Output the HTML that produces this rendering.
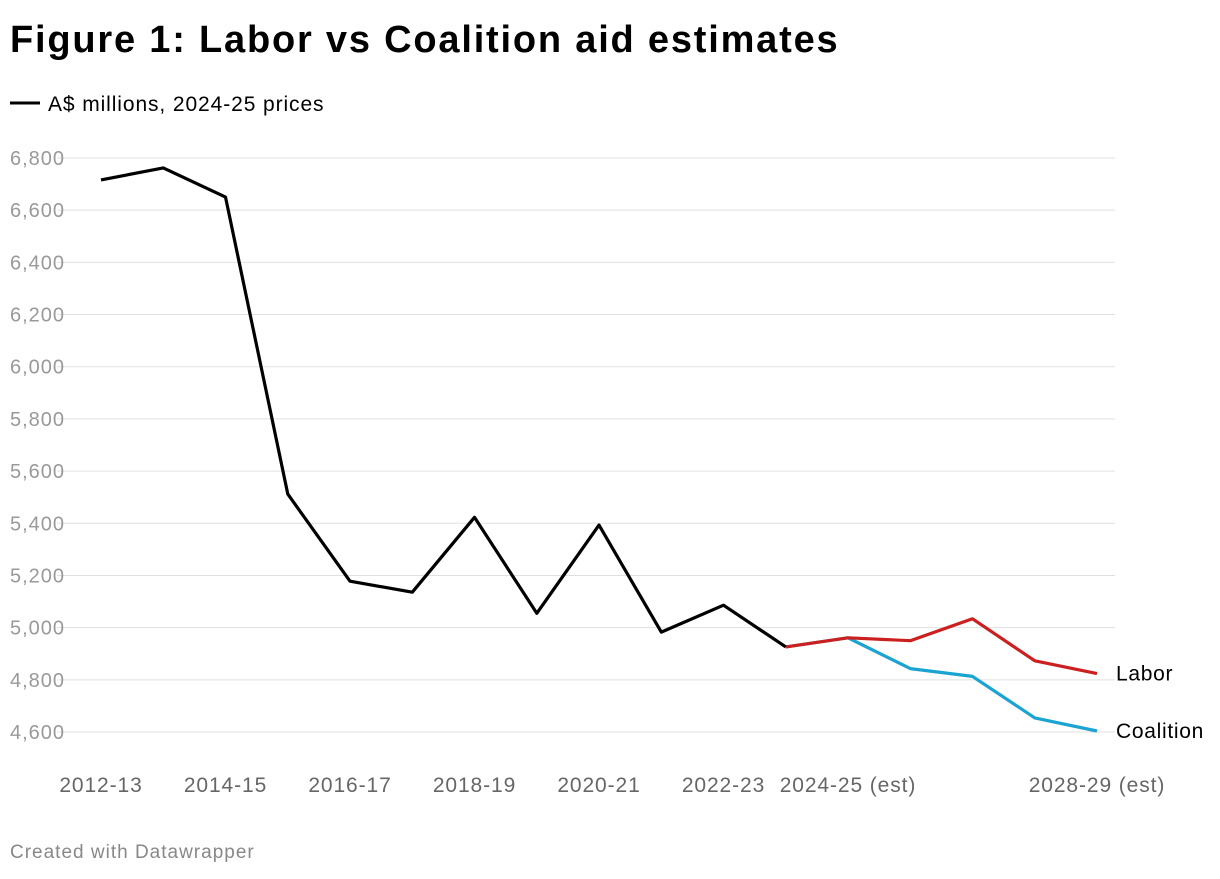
<!DOCTYPE html>
<html><head><meta charset="utf-8">
<style>
body{margin:0;background:#fff;width:1220px;height:874px;overflow:hidden;font-family:"Liberation Sans",Arial,sans-serif;}
svg text{font-family:"Liberation Sans",Arial,sans-serif;}
</style></head>
<body>
<svg id="chart" width="1220" height="874" xmlns="http://www.w3.org/2000/svg">
<text x="10" y="52" font-size="38" font-weight="bold" letter-spacing="1.8" fill="#000">Figure 1: Labor vs Coalition aid estimates</text>
<line x1="10" y1="103" x2="40" y2="103" stroke="#000" stroke-width="3"/>
<text x="48" y="111" font-size="21" letter-spacing="0.9" fill="#000">A$ millions, 2024-25 prices</text>
<g id="grid"></g><g id="series"></g><g id="xlabels"></g>
<text x="10" y="858" font-size="19" letter-spacing="1" fill="#888">Created with Datawrapper</text>
</svg>
<script>
const categories=["2012-13","2013-14","2014-15","2015-16","2016-17","2017-18","2018-19","2019-20","2020-21","2021-22","2022-23","2023-24","2024-25 (est)","2025-26","2026-27","2027-28","2028-29 (est)"];
const historical=[6716,6762,6650,5512,5178,5136,5423,5055,5393,4983,5086,4926,null,null,null,null,null];
const labor=[null,null,null,null,null,null,null,null,null,null,null,4926,4961,4950,5034,4873,4824];
const coalition=[null,null,null,null,null,null,null,null,null,null,null,4926,4961,4843,4813,4654,4604];
const yTicks=[4600,4800,5000,5200,5400,5600,5800,6000,6200,6400,6600,6800];
const xTickLabels=["2012-13","2014-15","2016-17","2018-19","2020-21","2022-23","2024-25 (est)","2028-29 (est)"];
const NS="http://www.w3.org/2000/svg";
const x=i=>101+i*62.25;
const y=v=>732-(v-4600)*(574/2200);
function mk(t,a,p){const e=document.createElementNS(NS,t);for(const k in a)e.setAttribute(k,a[k]);p.appendChild(e);return e;}
const grid=document.getElementById('grid');
yTicks.forEach(v=>{
 const l=mk('line',{x1:57,x2:1115,y1:y(v),y2:y(v),stroke:'#e0e0e0','stroke-width':1},grid);
 
 
 const t=mk('text',{x:10,y:y(v)+7,'font-size':20,'letter-spacing':1,fill:'#999'},grid);
 t.textContent=v.toLocaleString('en-US');
 
 
});
const xl=document.getElementById('xlabels');
xTickLabels.forEach(c=>{
 const i=categories.indexOf(c);
 const t=mk('text',{x:x(i),y:792,'font-size':21,'letter-spacing':0.9,fill:'#666','text-anchor':'middle'},xl);
 t.textContent=c;
 
 
});
const sg=document.getElementById('series');
function line(arr,color,name){
 const pts=[];arr.forEach((v,i)=>{if(v!=null)pts.push(x(i).toFixed(1)+','+y(v).toFixed(1));});
 const p=mk('polyline',{points:pts.join(' '),fill:'none',stroke:color,'stroke-width':3.2,'stroke-linejoin':'round'},sg);
 
 
}
line(coalition,'#1ba3d1','coalition-line');
line(labor,'#cc1f1f','labor-line');
line(historical,'#000','historical-line');
function lab(arr,txt,name){
 const i=arr.length-1;
 const t=mk('text',{x:x(i)+19,y:y(arr[i])+7,'font-size':21,'letter-spacing':0.7,fill:'#000'},sg);
 t.textContent=txt;
 
 
}
lab(labor,'Labor','labor-label');
lab(coalition,'Coalition','coalition-label');
</script>
</body></html>
